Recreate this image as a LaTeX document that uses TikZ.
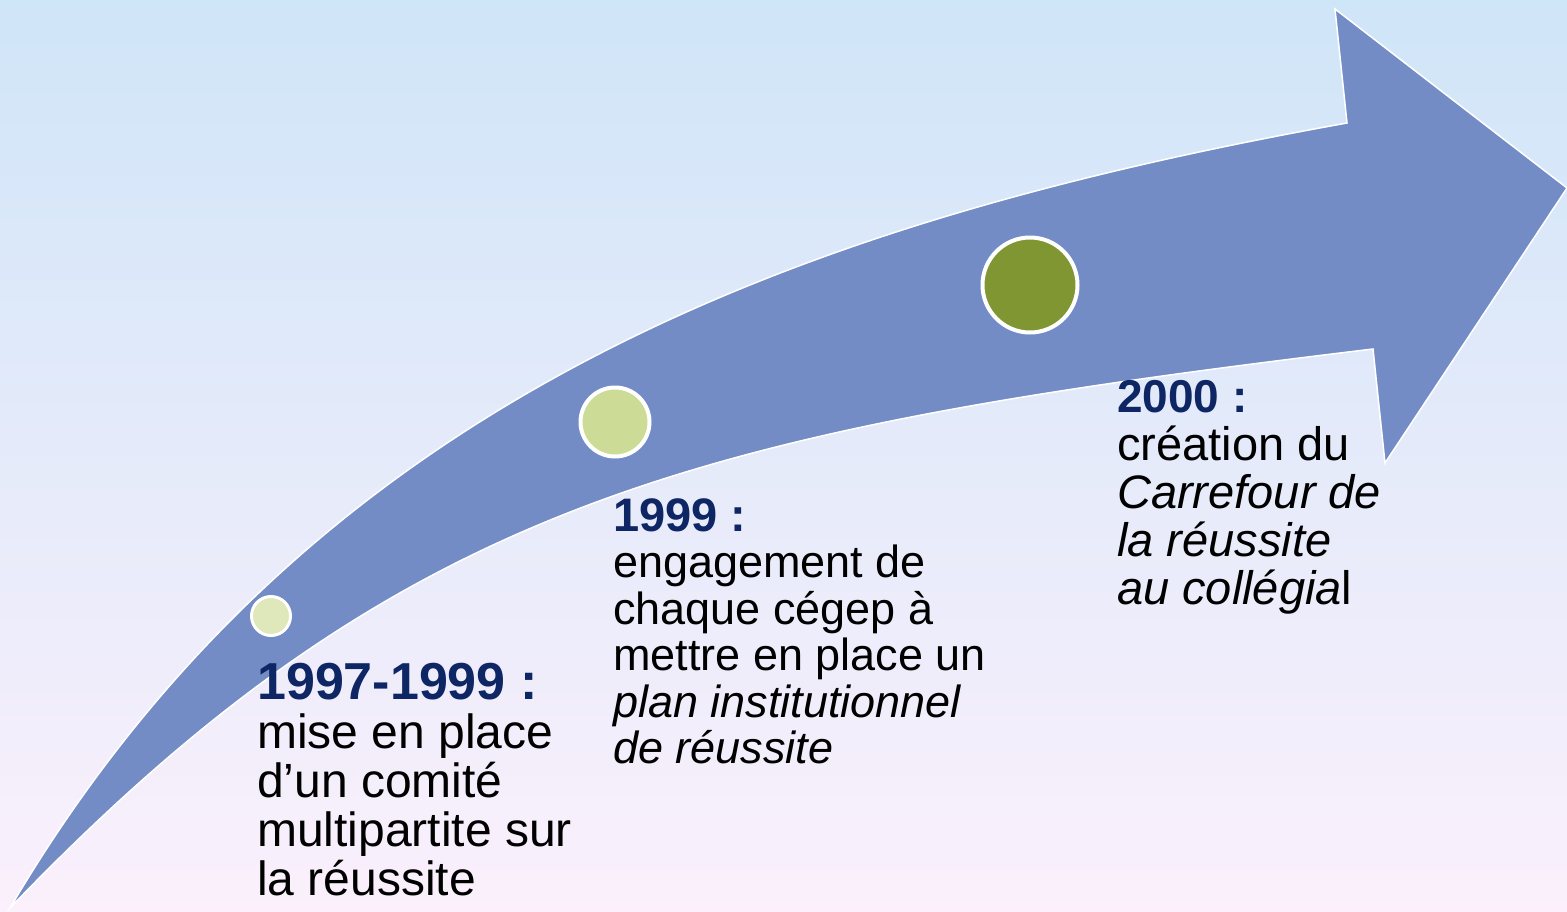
\documentclass[tikz,border=0pt]{standalone}
\usepackage{fontspec}
\setmainfont{Liberation Sans}
\definecolor{bgtop}{RGB}{207,229,248}
\definecolor{bgmid}{RGB}{194,213,236}
\definecolor{bgbot}{RGB}{251,240,252}
\definecolor{arrowblue}{RGB}{115,140,198}
\definecolor{yearblue}{RGB}{14,38,100}
\definecolor{dotpale}{RGB}{222,232,186}
\definecolor{dotlight}{RGB}{204,219,149}
\definecolor{dotdark}{RGB}{127,150,50}
\begin{document}
\begin{tikzpicture}[x=1pt,y=-1pt,
    dot/.style={circle, draw=white, line width=4pt, inner sep=0pt},
    textblock/.style={anchor=north west, inner sep=0pt, align=left, text=black}]
  \useasboundingbox (0,0) rectangle (1567,911);
  \shade[top color=bgtop, middle color=bgmid, bottom color=bgbot] (0,0) rectangle (1567,911);
  \draw[white, line width=1.5pt, fill=arrowblue] (10,908) .. controls (310,398) and (797,222) .. (1347,123)
    -- (1335,9) -- (1567,188) -- (1385,463) -- (1373,349) .. controls (700,430) and (402,500) .. (10,908) -- cycle;
  \node[dot, line width=3pt, minimum size=39pt, fill=dotpale] (d1) at (271,616) {};
  \node[dot, minimum size=69pt, fill=dotlight] (d2) at (615,422) {};
  \node[dot, minimum size=95pt, fill=dotdark] (d3) at (1030,285) {};
  \node[textblock, font=\fontsize{48}{49}\selectfont] (t1) at (257,663)
    {{\fontsize{52}{49}\selectfont\bfseries\color{yearblue}1997-1999 :}\\ mise en place\\ d’un comité\\ multipartite sur\\ la réussite};
  \node[textblock, font=\fontsize{45}{46.5}\selectfont] (t2) at (613,498)
    {{\fontsize{47}{46.5}\selectfont\bfseries\color{yearblue}1999 :}\\ engagement de\\ chaque cégep à\\ mettre en place un\\ \textit{plan institutionnel}\\ \textit{de réussite}};
  \node[textblock, font=\fontsize{47}{48}\selectfont] (t3) at (1117,380)
    {{\fontsize{46}{48}\selectfont\bfseries\color{yearblue}2000 :}\\ création du\\ \textit{Carrefour de}\\ \textit{la réussite}\\ \textit{au collégia}l};
\end{tikzpicture}
\end{document}
